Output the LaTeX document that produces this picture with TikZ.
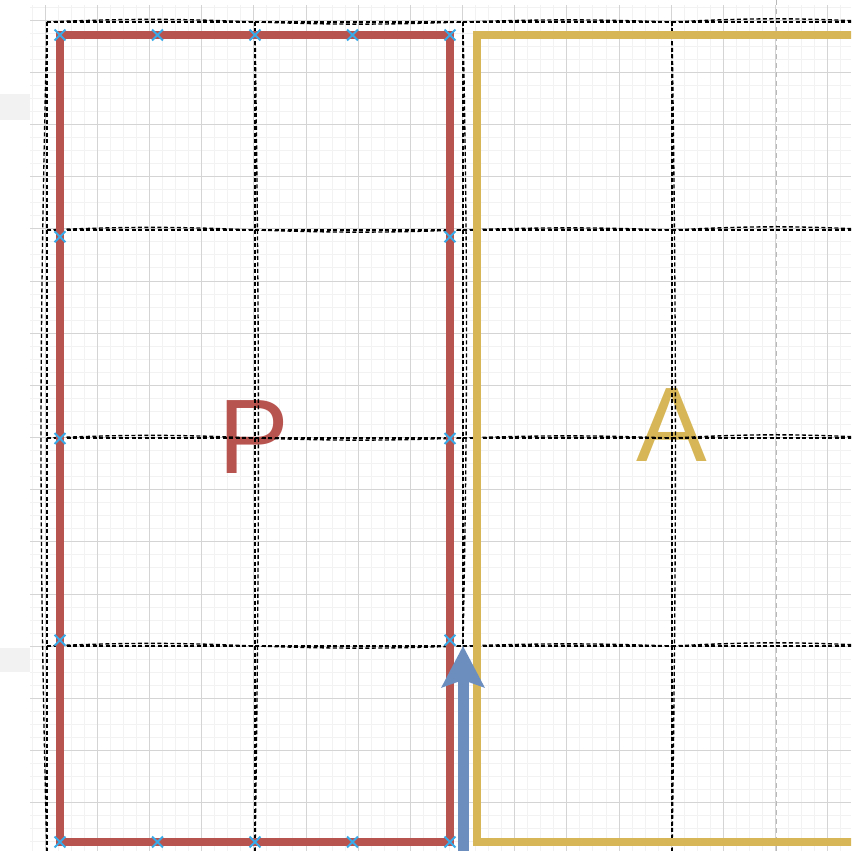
\documentclass[tikz,border=0pt]{standalone}
\usepackage{fontspec}
\setmainfont{Liberation Sans}
\usepackage{tikz}
\usetikzlibrary{arrows.meta,shapes.misc}
\definecolor{pred}{HTML}{B85450}
\definecolor{ayellow}{HTML}{D6B656}
\definecolor{flowblue}{HTML}{6C8EBF}
\definecolor{markblue}{HTML}{38AAE8}

\begin{document}
\begin{tikzpicture}[
  x=1pt, y=-1pt,
  minorline/.style={draw=black!5, line width=0.8pt},
  majorline/.style={draw=black!17, line width=0.8pt},
  sketch/.style={draw=black, line width=1.35pt, dash pattern=on 4pt off 2.5pt},
  faint/.style={draw=black!28, line width=1pt, dash pattern=on 5pt off 4pt},
  region/.style={draw, line width=8pt, inner sep=0pt, outer sep=0pt, minimum width=390pt, minimum height=807pt},
  letter/.style={font=\fontsize{106}{106}\selectfont, anchor=base, inner sep=0pt},
  xmark/.style={cross out, draw=markblue, line width=1.8pt, minimum size=9pt, inner sep=0pt},
  flow/.style={-{Stealth[length=41pt,width=42pt,inset=7pt]}, draw=flowblue, line width=11pt}
]
\useasboundingbox (0,0) rectangle (851,851);
\clip (0,0) rectangle (851,851);

% background grid
\fill[black!5] (0,94) rectangle (30,120);
\fill[black!5] (0,648) rectangle (30,672);
\foreach \i in {-1,...,62}{
  \pgfmathsetmacro{\gx}{45+13.045*\i}
  \draw[minorline] (\gx,5) -- (\gx,851);
}
\foreach \j in {-1,...,64}{
  \pgfmathsetmacro{\gy}{20+13.045*\j}
  \draw[minorline] (30,\gy) -- (851,\gy);
}
\foreach \i in {0,...,15}{
  \pgfmathsetmacro{\gx}{45+52.18*\i}
  \draw[majorline] (\gx,5) -- (\gx,851);
}
\foreach \j in {0,...,16}{
  \pgfmathsetmacro{\gy}{20+52.18*\j}
  \draw[majorline] (30,\gy) -- (851,\gy);
}
\coordinate (ftop) at (776,0);
\coordinate (fbot) at (776,851);
\draw[faint] (ftop) -- (fbot);

\node[letter, text=pred] (tP) at (254,473) {P};
\node[letter, text=ayellow] (tA) at (672,461) {A};

% sketched cells
\foreach \c/\x in {0/47,1/255,2/463,3/672,4/880}
  \foreach \r/\y in {0/22,1/230,2/438,3/646,4/860}
    \coordinate (g\c\r) at (\x,\y);
\draw[sketch] (g00) -- (g04);
\draw[sketch] (g00) to[bend right=1.4] (g04);
\foreach \c in {1,3}{
  \draw[sketch] (g\c0) -- (g\c4);
  \draw[sketch] (g\c0) to[bend left=0.8] (g\c4);
}
\draw[sketch] (g20) -- (g23);
\draw[sketch] (g20) to[bend left=1.1] (g23);
\foreach \r in {0,1,2,3}
  \foreach \c/\d/\b in {0/1/2.5,1/2/-2,2/3/2,3/4/3}{
    \draw[sketch] (g\c\r) -- (g\d\r);
    \draw[sketch] (g\c\r) to[bend left=\b] (g\d\r);
  }

\node[region, draw=pred] (P) at (255,438.5) {};
\node[region, draw=ayellow] (A) at (672,438.5) {};

\foreach \mx [count=\k] in {60,157.5,255,352.5,450}{
  \node[xmark] (mt\k) at (\mx,35) {};
  \node[xmark] (mb\k) at (\mx,842) {};
}
\foreach \my [count=\k] in {236.75,438.5,640.25}{
  \node[xmark] (ml\k) at (60,\my) {};
  \node[xmark] (mr\k) at (450,\my) {};
}

\coordinate (fstart) at (463,860);
\draw[flow] (fstart) -- (g23);
\end{tikzpicture}
\end{document}
